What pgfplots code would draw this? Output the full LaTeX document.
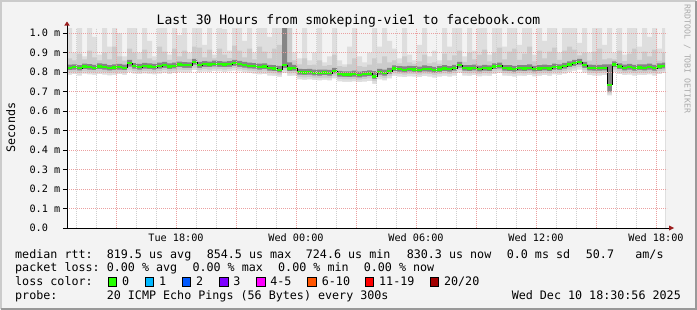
\documentclass[border=0pt]{standalone}
\usepackage{fontspec}
\setmainfont{DejaVu Sans Mono}
\usepackage{pgfplots}
\usepackage{pgfplotstable}
\pgfplotsset{compat=1.18}
\definecolor{bg}{HTML}{F3F3F3}
\definecolor{shadeA}{HTML}{CBCBCB}
\definecolor{shadeB}{HTML}{999999}
\definecolor{smokeA}{HTML}{DEDEDE}
\definecolor{smokeB}{HTML}{CBCBCB}
\definecolor{smokeC}{HTML}{858585}
\definecolor{mgrid}{HTML}{EBA0A0}
\definecolor{mingrid}{HTML}{CFCFCF}
\definecolor{arrowc}{HTML}{9B1C1C}
\definecolor{wm}{HTML}{AAAAAA}
\definecolor{lc0}{HTML}{26FF00}
\definecolor{lc1}{HTML}{00B8FF}
\definecolor{lc2}{HTML}{0059FF}
\definecolor{lc3}{HTML}{7E00FF}
\definecolor{lc4}{HTML}{FF00FF}
\definecolor{lc5}{HTML}{FF5500}
\definecolor{lc6}{HTML}{FF0000}
\definecolor{lc7}{HTML}{A10000}
\newcommand\axisfont{\fontsize{10.2bp}{12bp}\selectfont}
\newcommand\legfont{\fontsize{11.7bp}{14bp}\selectfont}
\newcommand\titlefont{\fontsize{13bp}{15bp}\selectfont}
\pgfplotstableread{
t med lo1 lo2 lo3 hi3 hi2 hi1
12.55 0.822 0.785 0.798 0.810 0.838 0.870 1.05
12.80 0.825 0.790 0.800 0.812 0.840 0.860 0.90
13.05 0.820 0.782 0.796 0.808 0.836 0.895 1.05
13.30 0.828 0.792 0.803 0.815 0.843 0.865 0.88
13.55 0.825 0.788 0.800 0.812 0.841 0.910 1.05
13.80 0.822 0.786 0.798 0.810 0.837 0.875 0.98
14.05 0.828 0.790 0.802 0.815 0.844 0.860 0.89
14.30 0.825 0.787 0.800 0.812 0.842 0.900 1.05
14.55 0.820 0.783 0.796 0.808 0.836 0.865 0.93
14.80 0.823 0.786 0.799 0.811 0.840 0.930 1.05
15.05 0.826 0.790 0.801 0.813 0.842 0.880 1.00
15.30 0.822 0.785 0.797 0.810 0.838 0.858 0.88
15.55 0.845 0.800 0.812 0.828 0.862 0.920 1.05
15.80 0.830 0.792 0.805 0.817 0.846 0.900 1.05
16.05 0.826 0.789 0.801 0.813 0.842 0.865 0.90
16.30 0.830 0.793 0.805 0.817 0.847 0.915 1.05
16.55 0.828 0.791 0.803 0.815 0.844 0.870 0.96
16.80 0.826 0.788 0.801 0.813 0.842 0.860 0.88
17.05 0.830 0.792 0.805 0.817 0.848 0.930 1.05
17.30 0.835 0.797 0.810 0.822 0.852 0.905 1.05
17.55 0.828 0.790 0.803 0.815 0.844 0.862 0.89
17.80 0.832 0.795 0.807 0.819 0.849 0.920 1.05
18.05 0.838 0.800 0.812 0.825 0.854 0.880 0.99
18.30 0.835 0.797 0.810 0.822 0.851 0.910 1.05
18.55 0.835 0.798 0.810 0.822 0.850 0.868 0.90
18.80 0.852 0.810 0.822 0.838 0.868 0.930 1.05
19.05 0.835 0.798 0.810 0.822 0.852 0.925 1.05
19.30 0.840 0.802 0.815 0.827 0.856 0.875 0.94
19.55 0.838 0.800 0.813 0.825 0.854 0.915 1.05
19.80 0.842 0.805 0.817 0.829 0.858 0.870 0.89
20.05 0.840 0.803 0.815 0.827 0.856 0.920 1.05
20.30 0.838 0.800 0.813 0.825 0.854 0.890 1.02
20.55 0.840 0.803 0.815 0.827 0.856 0.872 0.91
20.80 0.845 0.807 0.820 0.832 0.862 0.935 1.05
21.05 0.840 0.803 0.815 0.827 0.857 0.910 1.05
21.30 0.836 0.798 0.811 0.823 0.852 0.875 0.96
21.55 0.832 0.795 0.807 0.819 0.849 0.920 1.05
21.80 0.830 0.792 0.805 0.817 0.846 0.865 0.90
22.05 0.826 0.788 0.801 0.813 0.843 0.930 1.05
22.30 0.828 0.790 0.803 0.815 0.845 0.905 1.05
22.55 0.820 0.782 0.795 0.807 0.837 0.870 0.98
22.80 0.818 0.780 0.793 0.805 0.836 0.920 1.05
23.05 0.812 0.775 0.787 0.799 0.832 0.940 1.05
23.30 0.835 0.795 0.808 0.820 1.050 1.050 1.05
23.55 0.818 0.780 0.793 0.805 0.850 1.050 1.05
23.80 0.820 0.782 0.795 0.807 0.837 0.860 0.90
24.05 0.800 0.762 0.775 0.787 0.816 0.840 0.87
24.30 0.798 0.760 0.773 0.785 0.815 0.870 1.05
24.55 0.800 0.762 0.775 0.787 0.816 0.835 0.86
24.80 0.796 0.758 0.771 0.783 0.812 0.838 0.90
25.05 0.795 0.757 0.770 0.782 0.812 0.860 1.05
25.30 0.797 0.760 0.772 0.784 0.813 0.832 0.85
25.55 0.795 0.757 0.770 0.782 0.811 0.835 0.88
25.80 0.806 0.768 0.780 0.793 0.822 0.890 1.05
26.05 0.790 0.752 0.765 0.777 0.806 0.830 0.86
26.30 0.788 0.750 0.763 0.775 0.804 0.826 0.84
26.55 0.787 0.749 0.762 0.774 0.803 0.840 0.93
26.80 0.790 0.752 0.765 0.777 0.807 0.870 1.05
27.05 0.786 0.748 0.761 0.773 0.802 0.830 0.88
27.30 0.789 0.751 0.764 0.776 0.805 0.826 0.85
27.55 0.792 0.754 0.767 0.779 0.808 0.838 0.90
27.80 0.778 0.740 0.753 0.765 0.805 0.870 1.05
28.05 0.800 0.762 0.775 0.787 0.816 0.845 0.93
28.30 0.795 0.757 0.770 0.782 0.812 0.880 1.05
28.55 0.805 0.767 0.780 0.792 0.821 0.850 0.96
28.80 0.818 0.780 0.793 0.805 0.834 0.860 0.92
29.05 0.815 0.777 0.790 0.802 0.831 0.845 0.87
29.30 0.812 0.774 0.787 0.799 0.829 0.880 1.05
29.55 0.816 0.778 0.791 0.803 0.832 0.850 0.89
29.80 0.814 0.776 0.789 0.801 0.830 0.842 0.86
30.05 0.812 0.774 0.787 0.799 0.828 0.855 0.94
30.30 0.817 0.779 0.792 0.804 0.834 0.890 1.05
30.55 0.815 0.777 0.790 0.802 0.831 0.845 0.88
30.80 0.810 0.772 0.785 0.797 0.826 0.850 0.91
31.05 0.814 0.776 0.789 0.801 0.830 0.842 0.86
31.30 0.818 0.780 0.793 0.805 0.835 0.895 1.05
31.55 0.815 0.777 0.790 0.802 0.831 0.860 0.93
31.80 0.820 0.782 0.795 0.807 0.837 0.885 1.05
32.05 0.836 0.797 0.810 0.822 0.852 0.910 1.05
32.30 0.820 0.782 0.795 0.807 0.836 0.852 0.88
32.55 0.818 0.780 0.793 0.805 0.835 0.900 1.05
32.80 0.822 0.784 0.797 0.809 0.838 0.865 0.91
33.05 0.816 0.778 0.791 0.803 0.833 0.890 1.05
33.30 0.820 0.782 0.795 0.807 0.837 0.915 1.05
33.55 0.818 0.780 0.793 0.805 0.834 0.855 0.89
33.80 0.828 0.790 0.803 0.815 0.844 0.900 1.05
34.05 0.832 0.794 0.807 0.819 0.849 0.925 1.05
34.30 0.820 0.782 0.795 0.807 0.836 0.865 0.93
34.55 0.818 0.780 0.793 0.805 0.835 0.905 1.05
34.80 0.815 0.777 0.790 0.802 0.832 0.920 1.05
35.05 0.820 0.782 0.795 0.807 0.836 0.862 0.94
35.30 0.818 0.780 0.793 0.805 0.835 0.895 1.05
35.55 0.822 0.784 0.797 0.809 0.839 0.930 1.05
35.80 0.816 0.778 0.791 0.803 0.832 0.855 0.89
36.05 0.818 0.780 0.793 0.805 0.835 0.910 1.05
36.30 0.822 0.784 0.797 0.809 0.838 0.870 0.96
36.55 0.818 0.780 0.793 0.805 0.835 0.905 1.05
36.80 0.826 0.788 0.801 0.813 0.843 0.925 1.05
37.05 0.824 0.786 0.799 0.811 0.840 0.862 0.90
37.30 0.830 0.792 0.805 0.817 0.847 0.910 1.05
37.55 0.838 0.800 0.813 0.825 0.855 0.930 1.05
37.80 0.845 0.806 0.819 0.831 0.862 0.915 1.05
38.05 0.852 0.812 0.825 0.838 0.868 0.885 0.95
38.30 0.835 0.797 0.810 0.822 0.852 0.900 1.05
38.55 0.822 0.784 0.797 0.809 0.838 0.858 0.90
38.80 0.820 0.782 0.795 0.807 0.837 0.905 1.05
39.05 0.820 0.782 0.795 0.807 0.837 0.920 1.05
39.30 0.822 0.784 0.797 0.809 0.839 0.865 0.94
39.55 0.735 0.680 0.690 0.700 0.840 0.870 1.05
39.80 0.838 0.800 0.813 0.825 0.855 0.865 0.90
40.05 0.828 0.790 0.803 0.815 0.845 0.910 1.05
40.30 0.822 0.784 0.797 0.809 0.838 0.856 0.89
40.55 0.825 0.787 0.800 0.812 0.842 0.895 1.05
40.80 0.820 0.782 0.795 0.807 0.837 0.920 1.05
41.05 0.824 0.786 0.799 0.811 0.840 0.862 0.93
41.30 0.822 0.784 0.797 0.809 0.839 0.905 1.05
41.55 0.826 0.788 0.801 0.813 0.843 0.880 0.98
41.80 0.820 0.782 0.795 0.807 0.837 0.915 1.05
42.05 0.828 0.790 0.803 0.815 0.845 0.858 0.92
42.30 0.832 0.794 0.807 0.819 0.849 0.900 1.05
42.45 0.832 0.794 0.807 0.819 0.849 0.900 1.05
}\smoke
\begin{document}
\begin{tikzpicture}
\fill[bg] (0,0) rectangle (697bp,-310bp);
\begin{axis}[
  at={(67bp,-228bp)}, anchor=south west,
  scale only axis, width=600bp, height=200bp,
  xmin=12.55, xmax=42.55, ymin=0, ymax=1.026,
  axis line style={draw=none},
  axis on top,
  xtick={15,18,21,24,27,30,33,36,39,42},
  xticklabels={,Tue 18:00,,Wed 00:00,,Wed 06:00,,Wed 12:00,,Wed 18:00},
  minor xtick={13,14,16,17,19,20,22,23,25,26,28,29,31,32,34,35,37,38,40,41},
  ytick={0,0.1,0.2,0.3,0.4,0.5,0.6,0.7,0.8,0.9,1.0},
  yticklabels={0.0\hphantom{0m},0.1 m,0.2 m,0.3 m,0.4 m,0.5 m,0.6 m,0.7 m,0.8 m,0.9 m,1.0 m},
  xmajorgrids, xminorgrids, ymajorgrids,
  major grid style={mgrid, line width=0.6bp, dash pattern=on 1bp off 1bp},
  minor grid style={mingrid, line width=0.6bp, dash pattern=on 1bp off 1bp},
  tick align=outside,
  x tick style={draw=none},
  y tick style={black, line width=0.6bp},
  major tick length=4bp,
  ytick pos=left, xtick pos=bottom,
  tick label style={font=\axisfont, inner sep=0pt},
  xticklabel style={anchor=base, yshift=-9.7bp},
  yticklabel style={anchor=east, xshift=-2.5bp},
]
\addplot[const plot, draw=none, fill=smokeA] table[x=t,y=hi1]{\smoke} \closedcycle;
\addplot[const plot, draw=none, fill=smokeB] table[x=t,y=hi2]{\smoke} \closedcycle;
\addplot[const plot, draw=none, fill=smokeC] table[x=t,y=hi3]{\smoke} \closedcycle;
\addplot[const plot, draw=none, fill=smokeB] table[x=t,y=lo3]{\smoke} \closedcycle;
\addplot[const plot, draw=none, fill=smokeA] table[x=t,y=lo2]{\smoke} \closedcycle;
\addplot[const plot, draw=none, fill=white] table[x=t,y=lo1]{\smoke} \closedcycle;
\addplot[const plot, black, line width=0.7bp] table[x=t,y=med]{\smoke};
\addplot[jump mark left, lc0, line width=2.4bp] table[x=t,y=med]{\smoke};
\end{axis}
% axes
\draw[black, line width=1bp] (67bp,-228bp) -- (670bp,-228bp);
\draw[black, line width=1bp] (67bp,-228bp) -- (67bp,-25bp);
\fill[arrowc] (64.3bp,-25.5bp) -- (69.7bp,-25.5bp) -- (67bp,-21.5bp) -- cycle;
\fill[arrowc] (669bp,-225.5bp) -- (669bp,-230.5bp) -- (674bp,-228bp) -- cycle;
% borders
\draw[shadeA, line width=2bp] (1bp,-309bp) -- (1bp,-1bp) -- (696bp,-1bp);
\draw[shadeB, line width=2bp] (696bp,-1bp) -- (696bp,-309bp) -- (1bp,-309bp);
% title and labels
\node[anchor=base, inner sep=0pt, font=\titlefont] at (348.5bp,-24bp) {Last 30 Hours from smokeping-vie1 to facebook.com};
\node[anchor=base, inner sep=0pt, font=\legfont, rotate=90] at (15bp,-127.5bp) {Seconds};
\node[anchor=base, inner sep=0pt, font=\fontsize{8.2bp}{10bp}\selectfont, text=wm, rotate=-90] at (684.5bp,-59bp) {RRDTOOL / TOBI OETIKER};
% legend
\begin{scope}[every node/.style={anchor=base west, inner sep=0pt, font=\legfont}]
\node at (15bp,-258bp) {median rtt:};
\node at (106.6bp,-258bp) {819.5 us avg};
\node at (206.6bp,-258bp) {854.5 us max};
\node at (305.7bp,-258bp) {724.6 us min};
\node at (406.6bp,-258bp) {830.3 us now};
\node at (506.6bp,-258bp) {0.0 ms sd};
\node at (585.7bp,-258bp) {50.7};
\node at (635.2bp,-258bp) {am/s};
\node at (15bp,-271.7bp) {packet loss:};
\node at (106.6bp,-271.7bp) {0.00 \% avg};
\node at (192.3bp,-271.7bp) {0.00 \% max};
\node at (278bp,-271.7bp) {0.00 \% min};
\node at (363.6bp,-271.7bp) {0.00 \% now};
\node at (15bp,-285.3bp) {loss color:};
\node at (122bp,-285.3bp) {0};
\node at (159bp,-285.3bp) {1};
\node at (195.9bp,-285.3bp) {2};
\node at (233.2bp,-285.3bp) {3};
\node at (270.1bp,-285.3bp) {4-5};
\node at (321.7bp,-285.3bp) {6-10};
\node at (379bp,-285.3bp) {11-19};
\node at (443.9bp,-285.3bp) {20/20};
\node at (15bp,-299bp) {probe:};
\node at (106.6bp,-299bp) {20 ICMP Echo Pings (56 Bytes) every 300s};
\node[anchor=base east] at (681bp,-299bp) {Wed Dec 10 18:30:56 2025};
\end{scope}
\foreach \bx/\bc in {108/lc0,145.3/lc1,182.2/lc2,219.6/lc3,256.4/lc4,307.6/lc5,365.3/lc6,430.2/lc7}{
  \filldraw[fill=\bc, draw=black, line width=0.6bp] (\bx bp,-277bp) rectangle ++(8.4bp,-9bp);
}
\pgfresetboundingbox
\path[use as bounding box] (0,0) rectangle (697bp,-310bp);
\end{tikzpicture}
\end{document}
